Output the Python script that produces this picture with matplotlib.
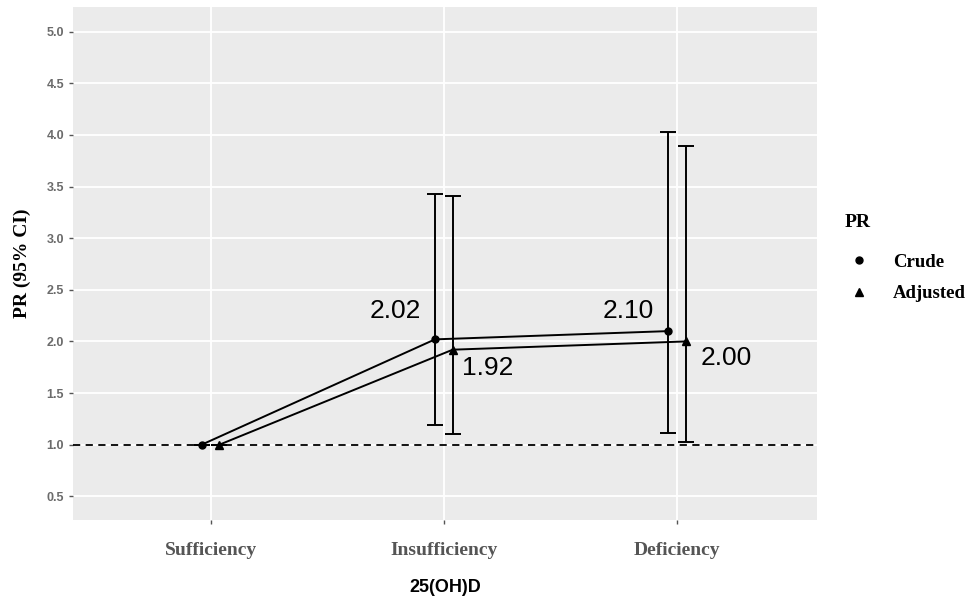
import numpy as np
import matplotlib.pyplot as plt
from matplotlib.lines import Line2D

# Data
categories = ["Sufficiency", "Insufficiency", "Deficiency"]
crude = [1.00, 2.02, 2.10]
crude_lo = [1.00, 1.19, 1.11]
crude_hi = [1.00, 3.43, 4.03]
adjusted = [1.00, 1.92, 2.00]
adj_lo = [1.00, 1.10, 1.03]
adj_hi = [1.00, 3.41, 3.89]
crude_labels = ["", "2.02", "2.10"]
adj_labels = ["", "1.92", "2.00"]
yticks = [0.5, 1.0, 1.5, 2.0, 2.5, 3.0, 3.5, 4.0, 4.5, 5.0]

x = np.arange(1, len(categories) + 1)
dodge = 0.038

fig = plt.figure(figsize=(9.69, 6.02), dpi=100)
ax = fig.add_axes([73 / 969, 1 - 520 / 602, (817 - 73) / 969, (520 - 7) / 602])
ax.set_facecolor("#ebebeb")
for s in ax.spines.values():
    s.set_visible(False)
ax.grid(True, color="white", linewidth=1.3)
ax.set_axisbelow(True)

# reference line
ax.axhline(1.0, color="black", linestyle=(0, (4, 3)), linewidth=1.3, zorder=2)

xc = x - dodge
xa = x + dodge
ax.errorbar(xc, crude, yerr=[np.subtract(crude, crude_lo), np.subtract(crude_hi, crude)],
            fmt="o-", color="black", markersize=5, linewidth=1.4, capsize=6, capthick=1.4,
            elinewidth=1.4, zorder=3)
ax.errorbar(xa, adjusted, yerr=[np.subtract(adjusted, adj_lo), np.subtract(adj_hi, adjusted)],
            fmt="^-", color="black", markersize=6, linewidth=1.4, capsize=6, capthick=1.4,
            elinewidth=1.4, zorder=3)

# value labels (offsets in pixels)
crude_off = [(0, 0), (-40, 28), (-40, 20)]
adj_off = [(0, 0), (35, -18), (40, -17)]
for xi, yi, lab, off in zip(xc, crude, crude_labels, crude_off):
    if lab:
        ax.annotate(lab, (xi, yi), xytext=off, textcoords="offset pixels",
                    ha="center", va="center", fontsize=19, family="Liberation Sans")
for xi, yi, lab, off in zip(xa, adjusted, adj_labels, adj_off):
    if lab:
        ax.annotate(lab, (xi, yi), xytext=off, textcoords="offset pixels",
                    ha="center", va="center", fontsize=19, family="Liberation Sans")

ax.set_xlim(0.41, 3.6)
ax.set_ylim(0.27, 5.24)
ax.set_xticks(x)
ax.set_xticklabels(categories, family="Liberation Serif", fontweight="bold",
                   fontsize=14, color="#555555")
ax.set_yticks(yticks)
ax.set_yticklabels([f"{v:.1f}" for v in yticks], family="Liberation Sans",
                   fontweight="bold", fontsize=9, color="#6b6b6b")
ax.tick_params(axis="both", color="#555555", length=3, width=1)
ax.tick_params(axis="x", pad=13)

ax.set_xlabel("25(OH)D", family="Liberation Sans", fontweight="bold", fontsize=13, labelpad=14)
ax.set_ylabel("PR (95% CI)", family="Liberation Serif", fontweight="bold", fontsize=14, labelpad=11)

# legend
fig.text(845 / 969, 1 - 223 / 602, "PR", family="Liberation Serif", fontweight="bold",
         fontsize=14, va="center", ha="left")
handles = [Line2D([], [], marker="o", linestyle="none", color="black", markersize=5),
           Line2D([], [], marker="^", linestyle="none", color="black", markersize=6)]
leg = fig.legend(handles, ["Crude", "Adjusted"], loc="upper left",
                 bbox_to_anchor=(833 / 969, 1 - 237 / 602), frameon=False,
                 prop={"family": "Liberation Serif", "weight": "bold", "size": 13.5},
                 handlelength=1.0, handletextpad=1.3, labelspacing=0.75)

fig.savefig("out.png", dpi=100)
